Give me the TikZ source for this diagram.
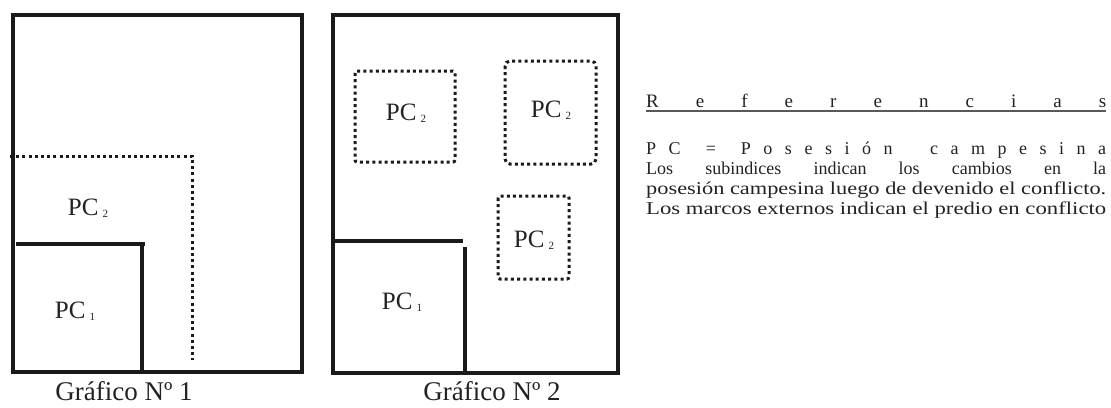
\documentclass[tikz,border=0pt]{standalone}
\usepackage{fontspec}
\setmainfont{Liberation Serif}
\usepackage{graphicx}
\definecolor{ink}{HTML}{1A1A1A}
\definecolor{txt}{HTML}{222222}
\tikzset{
  frame/.style={draw=ink, line width=3.4pt},
  wall/.style={draw=ink, line width=3.2pt},
  dots/.style={draw=ink, line width=3pt, dash pattern=on 3pt off 3.2pt},
  pclabel/.style={inner sep=0pt, text=txt, font=\fontsize{25}{25}\selectfont},
  caption/.style={inner sep=0pt, text=txt, font=\fontsize{27}{27}\selectfont, anchor=base},
  legline/.style={inner sep=0pt, text=txt, anchor=base west, font=\fontsize{18}{18}\selectfont},
}
\newcommand{\pcsub}[1]{PC\,{\fontsize{11}{11}\selectfont\raisebox{-2pt}{#1}}}
\begin{document}
\begin{tikzpicture}[x=1pt,y=-1pt]
\useasboundingbox (0,0) rectangle (1111,407);
% ---------- Graphic 1 ----------
\draw[frame] (13,15) rectangle (302,372);
\draw[dots] (10,156) -- (192,156) -- (192,360);
\draw[wall] (16,244) -- (145,244);
\draw[wall] (142,244) -- (142,372);
\node[pclabel] (g1pc2) at (88,208) {\pcsub{2}};
\node[pclabel] (g1pc1) at (75,311) {\pcsub{1}};
\node[caption] (cap1) at (124,400) {Gráfico Nº 1};
% ---------- Graphic 2 ----------
\draw[frame] (333,15) rectangle (618,373);
\draw[wall] (333,241) -- (463,241);
\draw[wall] (465,247) -- (465,373);
\draw[dots, rounded corners=2pt] (355,71) rectangle (455,162);
\draw[dots, rounded corners=5pt] (505,61) rectangle (596,164);
\draw[dots, rounded corners=2pt] (498,196) rectangle (569,279);
\node[pclabel] (g2a) at (406,113) {\pcsub{2}};
\node[pclabel] (g2b) at (551,110) {\pcsub{2}};
\node[pclabel] (g2c) at (534,240) {\pcsub{2}};
\node[pclabel] (g2pc1) at (402,302) {\pcsub{1}};
\node[caption] (cap2) at (492,400) {Gráfico Nº 2};
% ---------- Legend ----------
\node[legline, font=\fontsize{19}{19}\selectfont] (ref) at (646,107)
  {\makebox[460pt][s]{R\hfill e\hfill f\hfill e\hfill r\hfill e\hfill n\hfill c\hfill i\hfill a\hfill s}};
\draw[draw=gray!70!black, line width=1.1pt] (646,111) -- (1106,111);
\node[legline] (l1) at (646,154)
  {\makebox[460pt][s]{P\hfill C\hfill\hfill =\hfill\hfill P\hfill o\hfill s\hfill e\hfill s\hfill i\hfill ó\hfill n\hfill\hfill\hfill c\hfill a\hfill m\hfill p\hfill e\hfill s\hfill i\hfill n\hfill a}};
\node[legline] (l2) at (646,174)
  {\makebox[460pt][s]{Los\hfill subindices\hfill indican\hfill los\hfill cambios\hfill en\hfill la}};
\node[legline] (l3) at (646,194)
  {\resizebox{460pt}{\height}{posesión campesina luego de devenido el conflicto.}};
\node[legline] (l4) at (646,214)
  {\resizebox{460pt}{\height}{Los marcos externos indican el predio en conflicto}};
\end{tikzpicture}
\end{document}
